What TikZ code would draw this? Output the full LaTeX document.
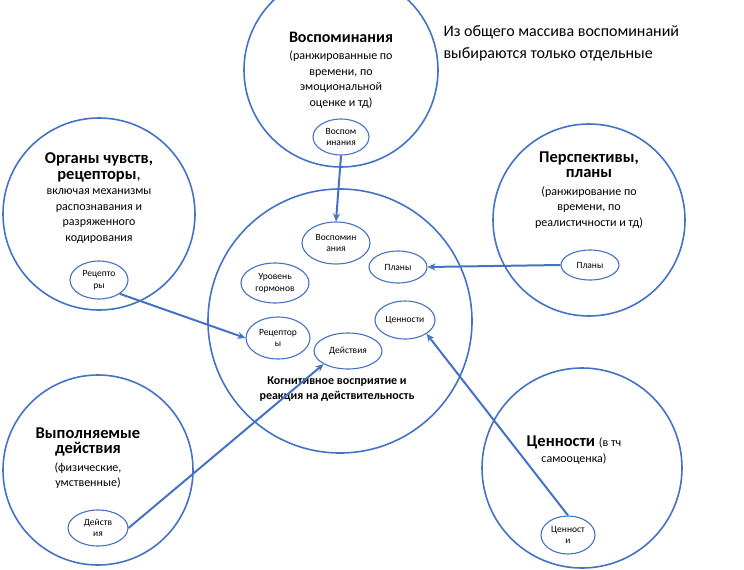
\documentclass[tikz,border=0pt]{standalone}
\usepackage{fontspec}
\setmainfont{Carlito}
\usetikzlibrary{arrows.meta,shapes.geometric}
\definecolor{bl}{HTML}{4472C4}
\begin{document}
\begin{tikzpicture}[x=1pt,y=-1pt,
 big/.style={draw=bl,line width=1.6pt,circle,inner sep=0pt},
 sm/.style={draw=bl,line width=1.1pt,ellipse,inner sep=0pt,font=\fontsize{9.5}{11.5}\selectfont,align=center},
 arr/.style={draw=bl,line width=2pt,-{Stealth[length=8pt,width=7pt]}},
 tt/.style={align=center,font=\fontsize{12}{15.5}\selectfont}]
\useasboundingbox (0,0) rectangle (744,570);
\clip (0,0) rectangle (744,570);
\fill[white] (0,0) rectangle (744,570);
\node[big,minimum size=194pt] (cm) at (341,70) {};
\node[big,minimum size=192pt] (cl) at (99,214) {};
\node[big,minimum size=192pt] (cr) at (589,220) {};
\node[big,minimum size=264pt] (cc) at (340,321) {};
\node[big,minimum size=190pt] (cbl) at (98,470) {};
\node[big,minimum size=200pt] (cbr) at (582,468) {};
% texts
\node[tt] (tm) at (341,70) {\fontsize{16}{19}\selectfont\bfseries Воспоминания\\[2pt](ранжированные по\\времени, по\\эмоциональной\\оценке и тд)};
\node[tt] (tl) at (99,198) {\fontsize{16.5}{20}\selectfont\bfseries Органы чувств,\\\fontsize{16.5}{20}\selectfont\bfseries рецепторы\mdseries,\\включая механизмы\\распознавания и\\разряженного\\кодирования};
\node[tt] (tr) at (589,190) {\fontsize{16.5}{20}\selectfont\bfseries Перспективы,\\\fontsize{16.5}{20}\selectfont\bfseries планы\\[2pt](ранжирование по\\времени, по\\реалистичности и тд)};
\node[tt] (tbl) at (88,458) {\fontsize{16.5}{20}\selectfont\bfseries Выполняемые\\\fontsize{16.5}{20}\selectfont\bfseries действия\\[2pt](физические,\\умственные)};
\node[tt] (tbr) at (574,450) {\fontsize{16.5}{20}\selectfont\bfseries Ценности \fontsize{12}{15}\selectfont\mdseries(в тч\\самооценка)};
\node[tt,font=\bfseries\fontsize{12}{15.5}\selectfont] (tc) at (337,389) {Когнитивное восприятие и\\реакция на действительность};
\node[align=left,anchor=north west,font=\fontsize{16}{22}\selectfont] (note) at (440,22) {Из общего массива воспоминаний\\выбираются только отдельные};
% small ellipses
\node[sm,minimum width=56pt,minimum height=36pt] (em) at (341,137) {Воспом\\инания};
\node[sm,minimum width=58pt,minimum height=38pt] (el) at (99,280) {Рецепто\\ры};
\node[sm,minimum width=58pt,minimum height=30pt] (er) at (590,265) {Планы};
\node[sm,minimum width=60pt,minimum height=36pt] (ebl) at (98,528) {Действ\\ия};
\node[sm,minimum width=54pt,minimum height=38pt] (ebr) at (568,535) {Ценност\\и};
\node[sm,minimum width=68pt,minimum height=42pt] (iv) at (336,243) {Воспомин\\ания};
\node[sm,minimum width=68pt,minimum height=40pt] (ih) at (275,283) {Уровень\\гормонов};
\node[sm,minimum width=58pt,minimum height=32pt] (ip) at (398,267) {Планы};
\node[sm,minimum width=60pt,minimum height=38pt] (ic) at (405,320) {Ценности};
\node[sm,minimum width=64pt,minimum height=42pt] (ir) at (278,338) {Рецептор\\ы};
\node[sm,minimum width=68pt,minimum height=36pt] (id) at (348,351) {Действия};
% arrows
\draw[arr] (em.south) -- (iv.north);
\draw[arr] (el.south east) -- (ir.west);
\draw[arr] (er.west) -- (ip.east);
\draw[arr] (ebl.east) -- (id.south west);
\draw[arr] (ebr.north) -- (ic.south east);
\end{tikzpicture}
\end{document}
